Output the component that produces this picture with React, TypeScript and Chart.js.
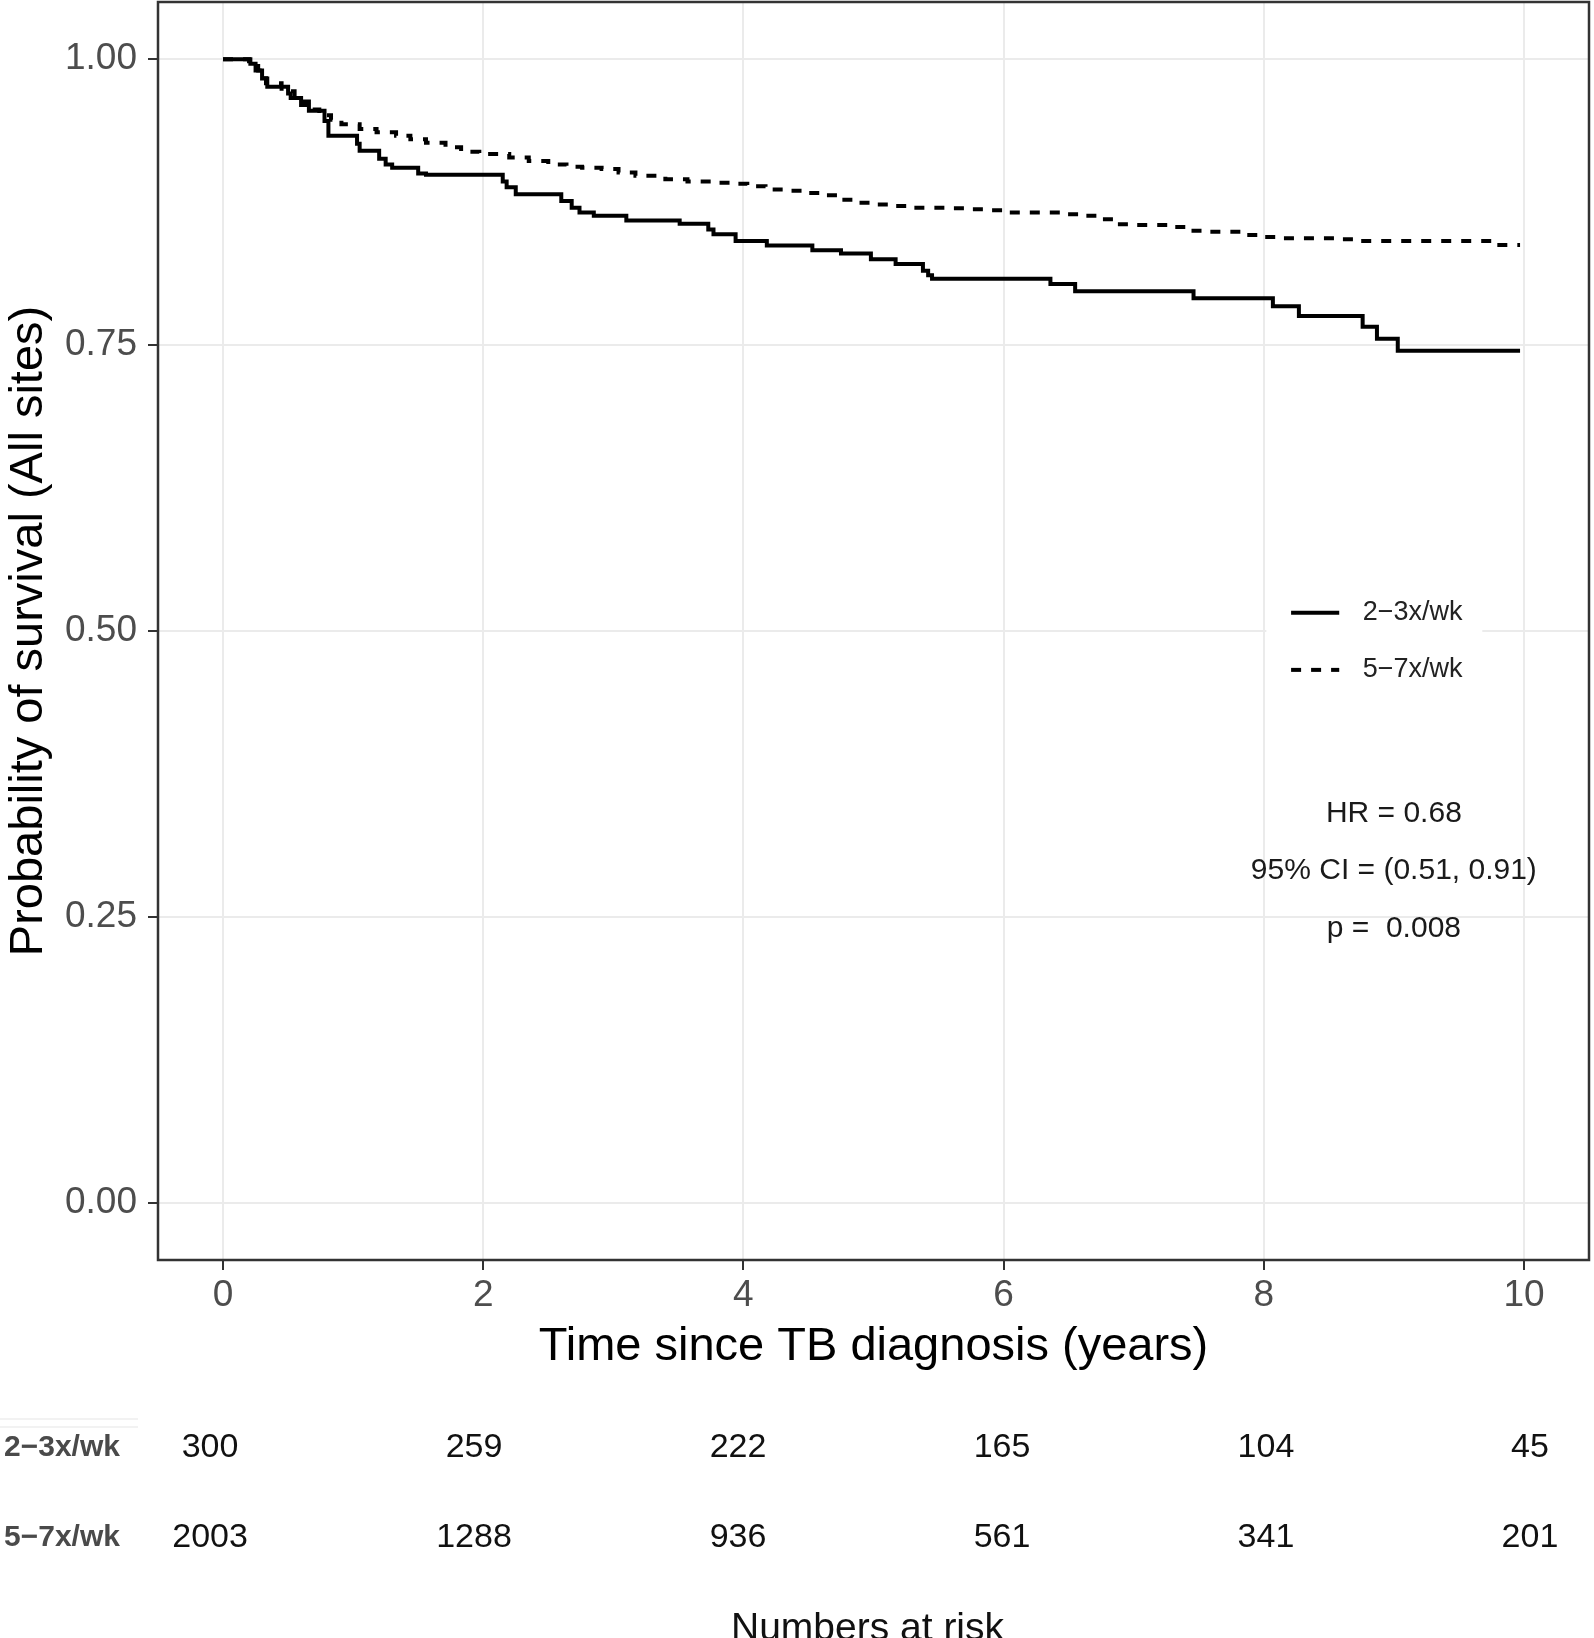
import React, { useEffect, useRef } from "react";
import { Chart, registerables } from "chart.js";
Chart.register(...registerables);

const FONT = '"Liberation Sans", Arial, Helvetica, sans-serif';

const groups = ["2\u22123x/wk", "5\u22127x/wk"];
const xTitle = "Time since TB diagnosis (years)";
const yTitle = "Probability of survival (All sites)";
const riskTitle = "Numbers at risk";

const xTicks = [0, 2, 4, 6, 8, 10];
const yTicks = [0, 0.25, 0.5, 0.75, 1];

// Kaplan-Meier steps, 2-3x/wk (solid)
const timesLow = [0, 0.21, 0.25, 0.30, 0.34, 0.50, 0.52, 0.60, 0.66, 0.78, 0.81, 1.03, 1.05, 1.20, 1.25, 1.30, 1.50, 1.56, 2.15, 2.18, 2.25, 2.60, 2.68, 2.74, 2.85, 3.10, 3.51, 3.73, 3.77, 3.94, 4.18, 4.53, 4.75, 4.98, 5.17, 5.38, 5.42, 5.45, 6.36, 6.55, 7.46, 8.07, 8.27, 8.76, 8.87, 9.03, 9.97];
const survLow = [1.000, 0.996, 0.990, 0.983, 0.976, 0.970, 0.966, 0.960, 0.955, 0.946, 0.933, 0.926, 0.920, 0.913, 0.908, 0.905, 0.900, 0.899, 0.893, 0.888, 0.882, 0.876, 0.870, 0.866, 0.863, 0.859, 0.856, 0.851, 0.847, 0.841, 0.837, 0.833, 0.830, 0.825, 0.821, 0.815, 0.811, 0.808, 0.8035, 0.797, 0.791, 0.784, 0.7755, 0.766, 0.7555, 0.745, 0.745];

// Kaplan-Meier steps, 5-7x/wk (dashed)
const timesHigh = [0, 0.20, 0.27, 0.33, 0.45, 0.55, 0.66, 0.74, 0.83, 0.91, 1.05, 1.18, 1.33, 1.44, 1.56, 1.71, 1.83, 1.97, 2.20, 2.35, 2.50, 2.64, 2.76, 2.91, 3.04, 3.17, 3.40, 3.57, 3.76, 3.90, 4.03, 4.17, 4.31, 4.45, 4.59, 4.72, 4.84, 4.98, 5.13, 5.26, 5.57, 5.72, 5.88, 6.01, 6.45, 6.60, 6.73, 6.86, 6.98, 7.30, 7.42, 7.55, 7.85, 8.00, 8.14, 8.60, 8.74, 9.79, 9.97];
const survHigh = [1.000, 0.996, 0.990, 0.979, 0.972, 0.963, 0.956, 0.951, 0.947, 0.943, 0.939, 0.936, 0.933, 0.930, 0.927, 0.923, 0.919, 0.917, 0.914, 0.911, 0.908, 0.906, 0.905, 0.904, 0.901, 0.898, 0.895, 0.893, 0.892, 0.891, 0.889, 0.886, 0.885, 0.883, 0.881, 0.877, 0.8745, 0.873, 0.8716, 0.870, 0.8696, 0.8687, 0.868, 0.866, 0.8645, 0.863, 0.860, 0.8556, 0.855, 0.8533, 0.850, 0.849, 0.8463, 0.8445, 0.8434, 0.8425, 0.841, 0.8376, 0.8376];

const riskTimes = [0, 2, 4, 6, 8, 10];
const riskLow = [300, 259, 222, 165, 104, 45];
const riskHigh = [2003, 1288, 936, 561, 341, 201];

const statsLines = ["HR = 0.68", "95% CI = (0.51, 0.91)", "p =  0.008"];
const statsX = 9;
const statsY = [0.34, 0.29, 0.24];

export default function App() {
  const ref = useRef<HTMLCanvasElement>(null);

  useEffect(() => {
    document.body.style.margin = "0";
    document.body.style.overflow = "hidden";
    const canvas = ref.current!;

    const overlay = {
      id: "overlay",
      afterDraw(chart: any) {
        const { ctx, chartArea: a, scales } = chart;
        const xs = scales.x;
        const ys = scales.y;
        ctx.save();

        // legend (inside panel)
        const bx0 = xs.getPixelForValue(8.02);
        const bx1 = xs.getPixelForValue(9.68);
        const by0 = ys.getPixelForValue(0.54);
        const by1 = ys.getPixelForValue(0.445);
        ctx.fillStyle = "#ffffff";
        ctx.fillRect(bx0, by0, bx1 - bx0, by1 - by0);
        const legY = [0.516, 0.466];
        chart.data.datasets.forEach((ds: any, i: number) => {
          const y = ys.getPixelForValue(legY[i]);
          ctx.beginPath();
          ctx.strokeStyle = ds.borderColor;
          ctx.lineWidth = ds.borderWidth;
          ctx.setLineDash(ds.borderDash || []);
          ctx.moveTo(xs.getPixelForValue(8.21), y);
          ctx.lineTo(xs.getPixelForValue(8.58), y);
          ctx.stroke();
          ctx.setLineDash([]);
          ctx.fillStyle = "#222";
          ctx.font = `27px ${FONT}`;
          ctx.textAlign = "left";
          ctx.textBaseline = "middle";
          ctx.fillText(ds.label, xs.getPixelForValue(8.76), y);
        });

        // stats annotation
        ctx.fillStyle = "#1a1a1a";
        ctx.font = `30px ${FONT}`;
        ctx.textAlign = "center";
        ctx.textBaseline = "middle";
        statsLines.forEach((s, i) => {
          ctx.fillText(s, xs.getPixelForValue(statsX), ys.getPixelForValue(statsY[i]));
        });

        // panel border
        ctx.strokeStyle = "#333333";
        ctx.lineWidth = 2.5;
        ctx.strokeRect(a.left, a.top, a.right - a.left, a.bottom - a.top);

        // risk table
        const row1 = a.bottom + 188;
        const row2 = a.bottom + 278;
        ctx.strokeStyle = "#eeeeee";
        ctx.lineWidth = 1.5;
        ctx.beginPath();
        ctx.moveTo(0, row1 - 29);
        ctx.lineTo(138, row1 - 29);
        ctx.moveTo(0, row1 - 21);
        ctx.lineTo(138, row1 - 21);
        ctx.stroke();

        ctx.fillStyle = "#4a4a4a";
        ctx.font = `bold 30px ${FONT}`;
        ctx.textAlign = "left";
        ctx.fillText(groups[0], 4, row1);
        ctx.fillText(groups[1], 4, row2);

        ctx.fillStyle = "#111";
        ctx.font = `34px ${FONT}`;
        ctx.textAlign = "center";
        riskTimes.forEach((t, i) => {
          const px = xs.getPixelForValue(t) - 13 + t * 1.9;
          ctx.fillText(String(riskLow[i]), px, row1);
          ctx.fillText(String(riskHigh[i]), px, row2);
        });

        ctx.fillStyle = "#111";
        ctx.font = `39px ${FONT}`;
        ctx.textBaseline = "alphabetic";
        ctx.fillText(riskTitle, (a.left + a.right) / 2 - 6, chart.height + 2);

        ctx.restore();
      },
    };

    const chart = new Chart(canvas, {
      type: "line",
      data: {
        datasets: [
          {
            label: groups[0],
            data: timesLow.map((t, i) => ({ x: t, y: survLow[i] })),
            borderColor: "#000000",
            borderWidth: 4,
            stepped: "before",
            pointRadius: 0,
            fill: false,
          },
          {
            label: groups[1],
            data: timesHigh.map((t, i) => ({ x: t, y: survHigh[i] })),
            borderColor: "#000000",
            borderWidth: 4,
            borderDash: [10, 10],
            stepped: "before",
            pointRadius: 0,
            fill: false,
          },
        ],
      },
      options: {
        animation: false,
        responsive: false,
        devicePixelRatio: 1,
        layout: { padding: { left: 0, top: 2, right: 5, bottom: 263 } },
        plugins: { legend: { display: false }, tooltip: { enabled: false } },
        scales: {
          x: {
            type: "linear",
            min: -0.5,
            max: 10.5,
            afterBuildTicks: (s: any) => {
              s.ticks = xTicks.map((v) => ({ value: v }));
            },
            afterFit: (s: any) => {
              s.height = 115;
              s.paddingLeft = 0;
              s.paddingRight = 0;
            },
            grid: { color: "#ebebeb", lineWidth: 2, tickColor: "#333333", tickLength: 10, tickWidth: 2 },
            border: { display: false },
            ticks: {
              color: "#4d4d4d",
              font: { family: FONT, size: 37 },
              padding: 4,
              autoSkip: false,
              maxRotation: 0,
              callback: (v: any) => String(v),
            },
            title: {
              display: true,
              text: xTitle,
              color: "#000000",
              font: { family: FONT, size: 47 },
              padding: { top: 0, bottom: 0 },
            },
          },
          y: {
            type: "linear",
            min: -0.05,
            max: 1.05,
            afterBuildTicks: (s: any) => {
              s.ticks = yTicks.map((v) => ({ value: v }));
            },
            afterFit: (s: any) => {
              s.width = 158;
              s.paddingTop = 0;
              s.paddingBottom = 0;
            },
            grid: { color: "#ebebeb", lineWidth: 2, tickColor: "#333333", tickLength: 10, tickWidth: 2 },
            border: { display: false },
            ticks: {
              color: "#4d4d4d",
              font: { family: FONT, size: 37 },
              padding: 11,
              callback: (v: any) => Number(v).toFixed(2),
            },
            title: {
              display: true,
              text: yTitle,
              color: "#000000",
              font: { family: FONT, size: 47 },
              padding: { top: 1, bottom: 0 },
            },
          },
        },
      },
      plugins: [overlay],
    } as any);

    return () => chart.destroy();
  }, []);

  return (
    <div style={{ position: "absolute", left: 0, top: 0, width: 1594, height: 1638, background: "#ffffff" }}>
      <canvas ref={ref} width={1594} height={1638} style={{ display: "block" }} />
    </div>
  );
}
